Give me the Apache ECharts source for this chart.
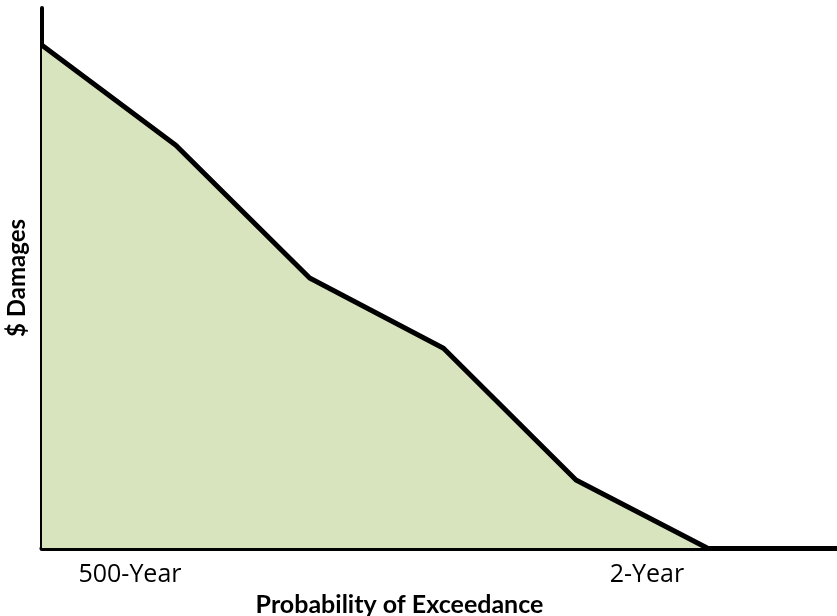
<!DOCTYPE html>
<html><head><meta charset="utf-8">
<script src="https://cdn.jsdelivr.net/npm/echarts@6/dist/echarts.min.js"></script>
<style>html,body{margin:0;padding:0;background:#fff}#c{width:837px;height:616px}</style>
</head><body><div id="c"></div>
<script>
const xValues = [0, 1.01, 2.02, 3.03, 4.03, 5.02];
const damages = [93.1, 74.6, 50.0, 37.0, 12.6, 0];
const tickValues = [0.664, 4.566];
const tickLabels = ['500-Year', '2-Year'];

const chart = echarts.init(document.getElementById('c'));
chart.setOption({
  animation: false,
  grid: { left: 42, right: 0, top: 8, bottom: 68, outerBoundsMode: 'none', containLabel: false },
  xAxis: {
    type: 'value', min: 0, max: 6,
    name: 'Probability of Exceedance', nameLocation: 'middle', nameGap: 44,
    nameTextStyle: { fontFamily: 'Lato', fontWeight: 'bold', fontSize: 25, color: '#000', padding: [0, 80, 0, 0] },
    axisLine: { show: true, lineStyle: { color: '#000', width: 5 } },
    axisTick: { show: false },
    splitLine: { show: false },
    axisLabel: {
      customValues: tickValues,
      formatter: function (v) { const i = tickValues.indexOf(v); return i >= 0 ? tickLabels[i] : ''; },
      fontFamily: 'Open Sans', fontSize: 25, color: '#000', margin: 14
    }
  },
  yAxis: {
    type: 'value', min: 0, max: 100,
    name: '$ Damages', nameLocation: 'middle', nameGap: 13, nameRotate: 90,
    nameTextStyle: { fontFamily: 'Lato', fontWeight: 'bold', fontSize: 24, color: '#000' },
    axisLine: { show: true, lineStyle: { color: '#000', width: 4 } },
    axisTick: { show: false },
    axisLabel: { show: false },
    splitLine: { show: false }
  },
  series: [{
    type: 'line',
    data: xValues.map((x, i) => [x, damages[i]]),
    symbol: 'none',
    lineStyle: { color: '#000', width: 5 },
    areaStyle: { color: '#d7e4bd', opacity: 1 }
  }]
});
</script></body></html>
